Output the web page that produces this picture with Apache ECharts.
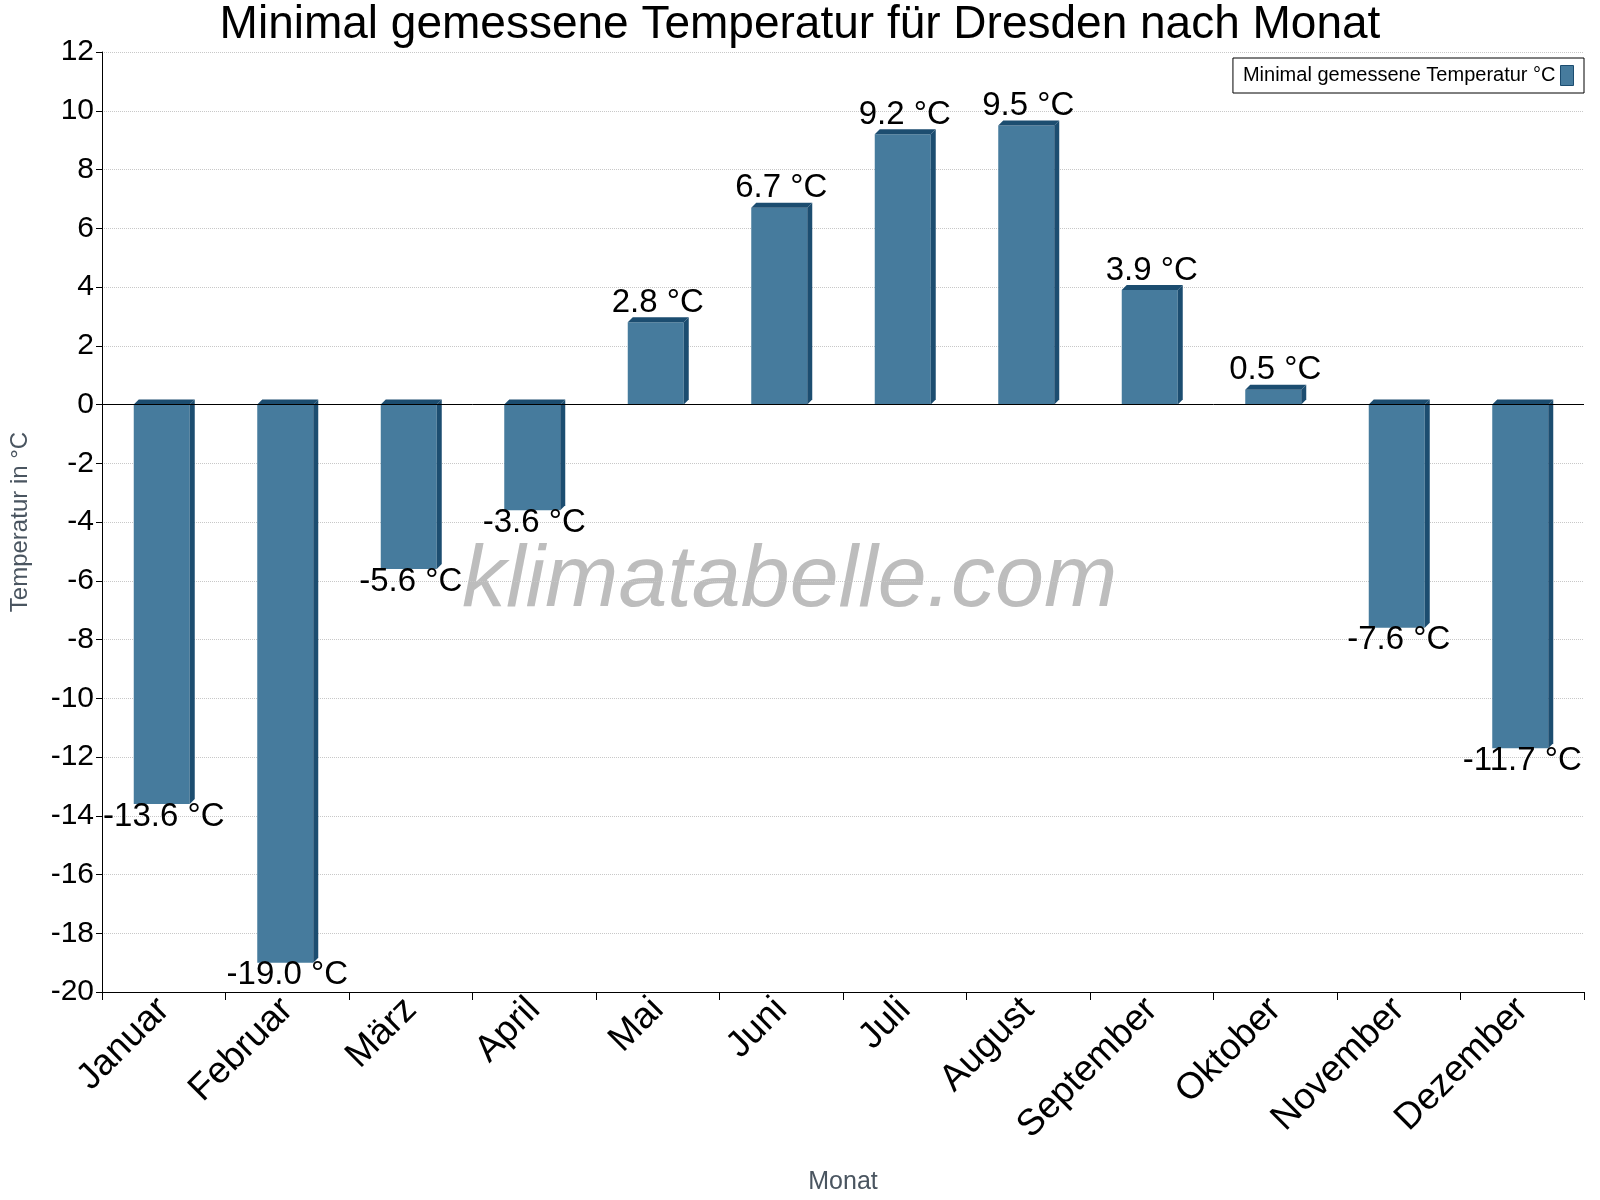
<!DOCTYPE html>
<html><head><meta charset="utf-8">
<script src="https://cdn.jsdelivr.net/npm/echarts@6/dist/echarts.min.js"></script>
<style>html,body{margin:0;padding:0;background:#fff}#c{width:1600px;height:1200px}</style>
</head><body><div id="c"></div>
<script>
// Minimal gemessene Temperatur, Dresden
var months = ['Januar','Februar','März','April','Mai','Juni','Juli','August','September','Oktober','November','Dezember'];
var minTemp = [-13.6, -19.0, -5.6, -3.6, 2.8, 6.7, 9.2, 9.5, 3.9, 0.5, -7.6, -11.7];
var seriesName = 'Minimal gemessene Temperatur °C';

var FRONT = '#467b9d', SIDE = '#1c4d70', FONT = 'Liberation Sans, Arial, sans-serif';

function renderBar(params, api) {
  var i = api.value(0), v = api.value(1);
  var cx = api.coord([i, 0])[0];
  var y0 = api.coord([i, 0])[1], y1 = api.coord([i, v])[1];
  var yTop = Math.min(y0, y1), yBot = Math.max(y0, y1);
  var x0 = cx - 30, x1 = cx + 26, d = 5;
  var label = v.toFixed(1) + ' °C';
  return {
    type: 'group',
    children: [
      { type: 'rect', shape: { x: x0, y: yTop, width: x1 - x0, height: yBot - yTop }, style: { fill: FRONT } },
      { type: 'polygon', shape: { points: [[x0, yTop], [x0 + d, yTop - d], [x1 + d, yTop - d], [x1, yTop]] }, style: { fill: SIDE } },
      { type: 'polygon', shape: { points: [[x1, yTop], [x1 + d, yTop - d], [x1 + d, yBot - d], [x1, yBot]] }, style: { fill: SIDE } },
      { type: 'text', x: cx, y: v >= 0 ? yTop - 3 : yBot - 4,
        style: { text: label, fill: '#000', font: '33px ' + FONT, align: 'center',
                 verticalAlign: v >= 0 ? 'bottom' : 'top' } }
    ]
  };
}

var chart = echarts.init(document.getElementById('c'));
chart.setOption({
  animation: false,
  backgroundColor: '#fff',
  title: { text: 'Minimal gemessene Temperatur für Dresden nach Monat', left: 'center', top: -3,
           textStyle: { fontFamily: FONT, fontSize: 46, fontWeight: 'normal', color: '#000' } },
  graphic: [{ type: 'text', left: 462, top: 538,
              style: { text: 'klimatabelle.com', fill: '#bdbdbd', font: 'italic 88px ' + FONT } }],
  legend: {
    right: 16, top: 58, orient: 'horizontal', align: 'right',
    borderColor: '#000', borderWidth: 1, borderRadius: 0, padding: [7, 10, 7, 10],
    itemWidth: 13, itemHeight: 20, icon: 'rect',
    textStyle: { fontFamily: FONT, fontSize: 20, color: '#000' },
    data: [{ name: seriesName, itemStyle: { color: FRONT, borderColor: SIDE, borderWidth: 1 } }]
  },
  grid: { left: 95, right: 16, top: 52, bottom: 205 },
  xAxis: {
    type: 'category', data: months, boundaryGap: true,
    name: 'Monat', nameLocation: 'middle', nameGap: 178,
    nameTextStyle: { fontFamily: FONT, fontSize: 25, color: '#4a5560' },
    axisLine: { onZero: false, lineStyle: { color: '#000' } },
    axisTick: { show: true, interval: 0, length: 8, lineStyle: { color: '#000' } },
    axisLabel: { interval: 0, rotate: 45, fontFamily: FONT, fontSize: 37, color: '#000', margin: 12 },
    splitLine: { show: false }
  },
  yAxis: {
    type: 'value', min: -20, max: 12, interval: 2,
    name: 'Temperatur in °C', nameLocation: 'middle', nameGap: 70,
    nameTextStyle: { fontFamily: FONT, fontSize: 24, color: '#4a5560' },
    axisLine: { show: true, lineStyle: { color: '#000' } },
    axisTick: { show: true, length: 6, lineStyle: { color: '#000' } },
    axisLabel: { fontFamily: FONT, fontSize: 30, color: '#000', margin: 8 },
    splitLine: { show: true, lineStyle: { color: '#c8c8c8', type: 'dotted' } }
  },
  series: [{
    name: seriesName, type: 'custom', renderItem: renderBar, itemStyle: { color: FRONT },
    data: minTemp.map(function (v, i) { return [i, v]; }),
    encode: { x: 0, y: 1 },
    markLine: { silent: true, symbol: 'none', label: { show: false },
                lineStyle: { color: '#000', type: 'solid', width: 1 }, data: [{ yAxis: 0 }] }
  }]
});
</script></body></html>
